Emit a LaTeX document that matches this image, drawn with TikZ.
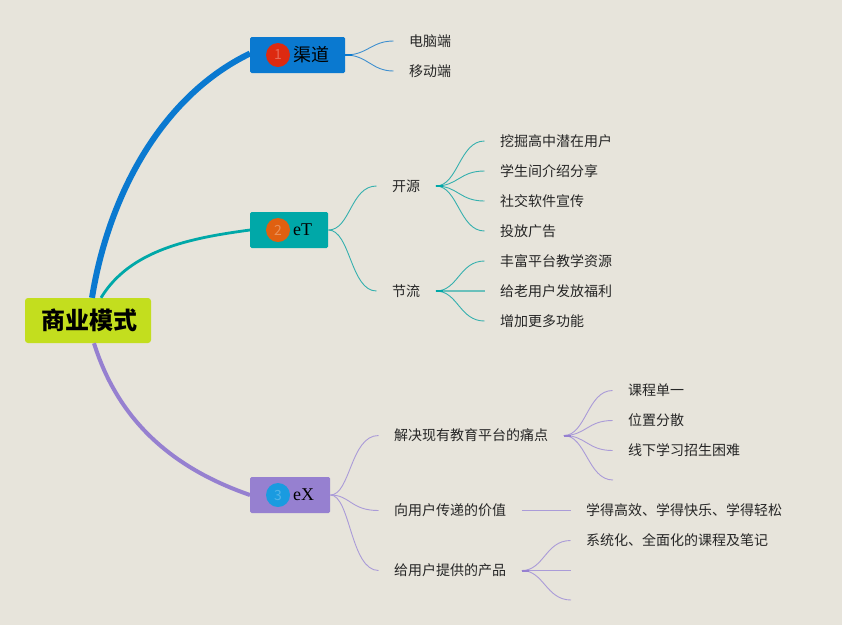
\documentclass[tikz,border=0pt]{standalone}
\usepackage{fontspec}
\setmainfont{Noto Sans CJK SC}
\newfontfamily\serifpart{Liberation Serif}
\definecolor{paper}{HTML}{E7E4DB}
\definecolor{lime}{HTML}{C3DE1E}
\definecolor{blueA}{HTML}{0A79D0}
\definecolor{tealA}{HTML}{00A8A8}
\definecolor{violetA}{HTML}{9680D0}
\definecolor{blueL}{HTML}{3F8FCF}
\definecolor{tealL}{HTML}{35B0AE}
\definecolor{violetL}{HTML}{AA9BD8}
\tikzset{
  rootbox/.style={fill=lime, rounded corners=3pt, minimum width=126pt, minimum height=45pt, inner sep=0pt, font=\fontsize{24}{24}\bfseries},
  branchbox/.style={rounded corners=1.5pt, minimum height=36pt, inner xsep=16pt, inner ysep=0pt, font=\fontsize{18}{18}\selectfont, execute at begin node={\hspace*{27pt}}},
  badge/.style={circle, minimum size=24pt, inner sep=0pt, font=\fontsize{14}{14}\selectfont},
  item/.style={inner xsep=15.5pt, inner ysep=0pt, font=\fontsize{14}{14}\selectfont, text=black!85},
  twig/.style={line width=0.9pt},
  flatline/.style={line width=1.3pt},
  stub/.style={line width=2pt}
}
\begin{document}
\begin{tikzpicture}[x=1pt,y=-1pt]
\fill[paper] (0,0) rectangle (842,625);
\useasboundingbox (0,0) rectangle (842,625);
% root and branches
\node[rootbox] (root) at (88,320.5) {\hspace*{2pt}商业模式};
\node[branchbox, fill=blueA, anchor=west] (qudao) at (250,55) {渠道};
\node[branchbox, fill=tealA, anchor=west] (et) at (250,230) {\serifpart eT};
\node[branchbox, fill=violetA, anchor=west] (ex) at (250,495) {\serifpart eX};
\definecolor{badgeA}{HTML}{DD2A10}
\definecolor{badgeB}{HTML}{E06010}
\definecolor{badgeC}{HTML}{1A9BE0}
\node[badge, fill=badgeA, text=badgeA!70!white] (one) at (278,55) {1};
\node[badge, fill=badgeB, text=badgeB!70!white] (two) at (278,230) {2};
\node[badge, fill=badgeC, text=badgeC!75!white] (three) at (278,495) {3};
\draw[blueA, line width=6pt] ([xshift=4pt]root.north) .. controls (108,198) and (160,97) .. ([yshift=1.5pt]qudao.west);
\draw[tealA, line width=2.8pt] ([xshift=13pt]root.north) .. controls (130,250) and (190,238) .. (et.west);
\draw[violetA, line width=4pt] ([xshift=6pt]root.south) .. controls (119,423) and (175,469) .. (ex.west);
% channel leaves
\node[item, anchor=west] (pc) at (393.5,41) {电脑端};
\node[item, anchor=west] (mobile) at (393.5,71) {移动端};
\draw[blueL, twig] (qudao.east) .. controls +(22,0) and +(-22,0) .. (pc.west);
\draw[blueL, twig] (qudao.east) .. controls +(22,0) and +(-22,0) .. (mobile.west);
\draw[blueA, stub] (qudao.east) -- ++(7,0);
% eT part
\node[item, anchor=west] (kaiyuan) at (376.5,186) {开源};
\node[item, anchor=west] (jieliu) at (376.5,291) {节流};
\draw[tealL, twig] (et.east) .. controls +(22,0) and +(-26,0) .. (kaiyuan.west);
\draw[tealL, twig] (et.east) .. controls +(22,0) and +(-26,0) .. (jieliu.west);
\node[item, anchor=west] (dig) at (484.5,141) {挖掘高中潜在用户};
\node[item, anchor=west] (share) at (484.5,171) {学生间介绍分享};
\node[item, anchor=west] (social) at (484.5,201) {社交软件宣传};
\node[item, anchor=west] (ads) at (484.5,231) {投放广告};
\draw[tealL, twig] (kaiyuan.east) .. controls +(22,0) and +(-25,0) .. (dig.west);
\draw[tealL, twig] (kaiyuan.east) .. controls +(22,0) and +(-25,0) .. (share.west);
\draw[tealL, twig] (kaiyuan.east) .. controls +(22,0) and +(-25,0) .. (social.west);
\draw[tealL, twig] (kaiyuan.east) .. controls +(22,0) and +(-25,0) .. (ads.west);
\draw[tealA, stub] (kaiyuan.east) -- ++(7,0);
\node[item, anchor=west] (rich) at (484.5,261) {丰富平台教学资源};
\node[item, anchor=west] (bonus) at (484.5,291) {给老用户发放福利};
\node[item, anchor=west] (more) at (484.5,321) {增加更多功能};
\draw[tealL, twig] (jieliu.east) .. controls +(22,0) and +(-25,0) .. (rich.west);
\draw[tealL!70!paper, flatline] (jieliu.east) -- (bonus.west);
\draw[tealL, twig] (jieliu.east) .. controls +(22,0) and +(-25,0) .. (more.west);
\draw[tealA, stub] (jieliu.east) -- ++(7,0);
% eX part
\node[item, anchor=west] (pain) at (378.5,435.5) {解决现有教育平台的痛点};
\node[item, anchor=west] (value) at (378.5,510.5) {向用户传递的价值};
\node[item, anchor=west] (product) at (378.5,570.5) {给用户提供的产品};
\draw[violetL, twig] (ex.east) .. controls +(20,0) and +(-28,0) .. (pain.west);
\draw[violetL, twig] (ex.east) .. controls +(20,0) and +(-28,0) .. (value.west);
\draw[violetL, twig] (ex.east) .. controls +(20,0) and +(-28,0) .. (product.west);
\node[item, anchor=west] (single) at (612.5,390.5) {课程单一};
\node[item, anchor=west] (spread) at (612.5,420.5) {位置分散};
\node[item, anchor=west] (offline) at (612.5,450.5) {线下学习招生困难};
\coordinate (painend) at (613,480);
\draw[violetL, twig] (pain.east) .. controls +(22,0) and +(-25,0) .. (single.west);
\draw[violetL, twig] (pain.east) .. controls +(22,0) and +(-25,0) .. (spread.west);
\draw[violetL, twig] (pain.east) .. controls +(22,0) and +(-25,0) .. (offline.west);
\draw[violetL, twig] (pain.east) .. controls +(22,0) and +(-25,0) .. (painend);
\draw[violetA, stub] (pain.east) -- ++(7,0);
\node[item, anchor=west] (learn) at (570.5,510.5) {学得高效、学得快乐、学得轻松};
\draw[violetL, flatline] (value.east) -- (learn.west);
\node[item, anchor=west] (system) at (570.5,540.5) {系统化、全面化的课程及笔记};
\coordinate (prodmid) at (571,570.5);
\coordinate (prodend) at (571,600);
\draw[violetL, twig] (product.east) .. controls +(22,0) and +(-25,0) .. (system.west);
\draw[violetL, flatline] (product.east) -- (prodmid);
\draw[violetL, twig] (product.east) .. controls +(22,0) and +(-25,0) .. (prodend);
\draw[violetA, stub] (product.east) -- ++(7,0);
\end{tikzpicture}
\end{document}
